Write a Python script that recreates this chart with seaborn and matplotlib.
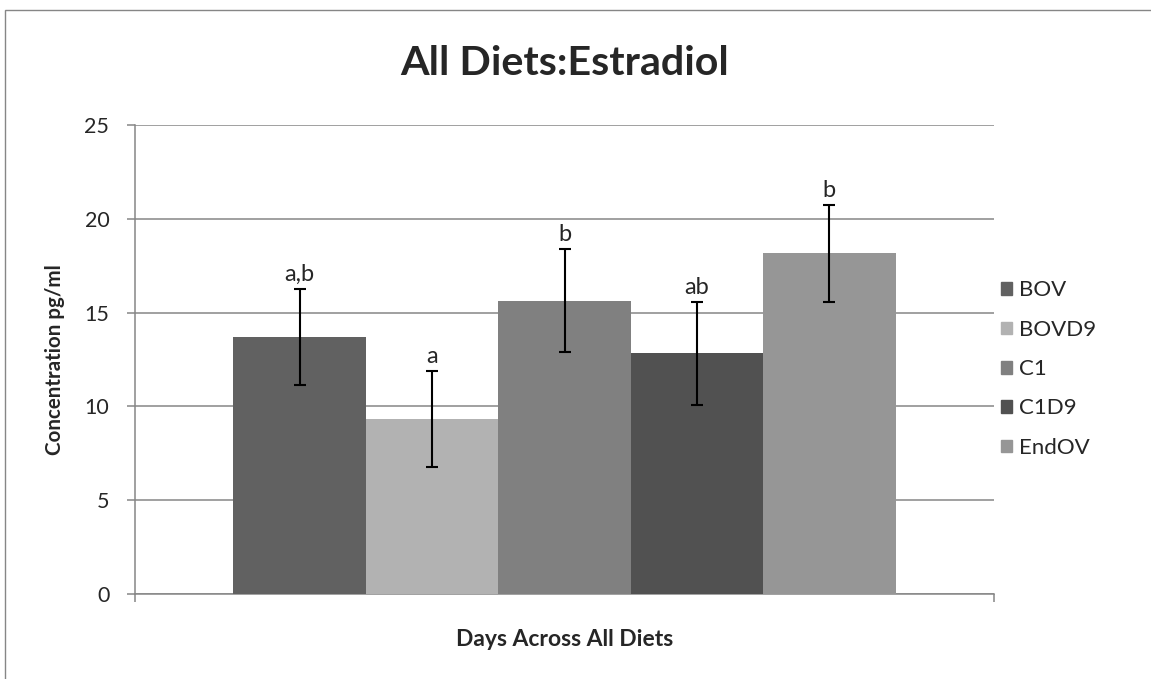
import matplotlib
matplotlib.use("Agg")
import matplotlib.pyplot as plt
import matplotlib.patches as mpatches
import seaborn as sns
import pandas as pd

# ---- Data ----
series = ["BOV", "BOVD9", "C1", "C1D9", "EndOV"]
means = [13.68, 9.34, 15.63, 12.82, 18.17]
errors = [2.56, 2.56, 2.74, 2.72, 2.58]
letters = ["a,b", "a", "b", "ab", "b"]
colors = ["#616161", "#b2b2b2", "#808080", "#515151", "#969696"]

df = pd.DataFrame({"Group": [""] * len(series), "Series": series, "Value": means})

sns.set_style("white")
plt.rcParams["font.family"] = ["Lato", "DejaVu Sans"]

fig = plt.figure(figsize=(11.51, 6.79), dpi=100)
ax = fig.add_axes([0.1173, 0.1252, 0.7463, 0.6907])

sns.barplot(data=df, x="Group", y="Value", hue="Series", palette=colors,
            width=0.771, saturation=1, errorbar=None, linewidth=0,
            legend=False, ax=ax, zorder=3)

# error bars and letters placed on the drawn bars
bars = [p for p in ax.patches if p.get_height() > 0]
for bar, m, e, lab in zip(bars, means, errors, letters):
    cx = bar.get_x() + bar.get_width() / 2
    ax.errorbar(cx, m, yerr=e, fmt="none", ecolor="black", elinewidth=1.5,
                capsize=4.5, capthick=1.5, zorder=4)
    ax.annotate(lab, (cx, m + e), textcoords="offset points", xytext=(0, 3),
                ha="center", va="bottom", fontsize=17)

ax.set_ylim(0, 25)
ax.set_xlim(-0.5, 0.5)
ax.set_yticks([0, 5, 10, 15, 20, 25])
ax.yaxis.grid(True, color="#868686", linewidth=1.1, zorder=0)
ax.set_axisbelow(True)
ax.set_xticks([-0.5, 0.5])
ax.set_xticklabels(["", ""])
ax.tick_params(axis="x", direction="out", length=6, width=1.1, color="#868686", bottom=True)
ax.tick_params(axis="y", direction="out", length=5.5, width=1.1, color="#868686", left=True,
               labelsize=15.5, pad=13)
for s in ["top", "right"]:
    ax.spines[s].set_visible(False)
for s in ["left", "bottom"]:
    ax.spines[s].set_color("#868686")
    ax.spines[s].set_linewidth(1.1)

ax.set_title("All Diets:Estradiol", fontsize=29.7, fontweight="bold", pad=36)
ax.set_ylabel("Concentration pg/ml", fontsize=14.8, fontweight="bold", labelpad=14)
ax.set_xlabel("Days Across All Diets", fontsize=16.5, fontweight="bold", labelpad=16)

handles = [mpatches.Patch(color=c) for c in colors]
fig.legend(handles, series, loc="upper left", bbox_to_anchor=(0.862, 0.6),
           frameon=False, fontsize=16, handlelength=0.5, handleheight=0.5,
           handletextpad=0.3, labelspacing=0.87, borderaxespad=0)

# outer chart border
fig.patches.append(mpatches.Rectangle((5 / 1151, -0.1), 1.2, 1 - 10 / 679 + 0.1,
                                      transform=fig.transFigure, fill=False,
                                      edgecolor="#868686", linewidth=1.0))

fig.savefig("out.png", dpi=100)
plt.close(fig)
